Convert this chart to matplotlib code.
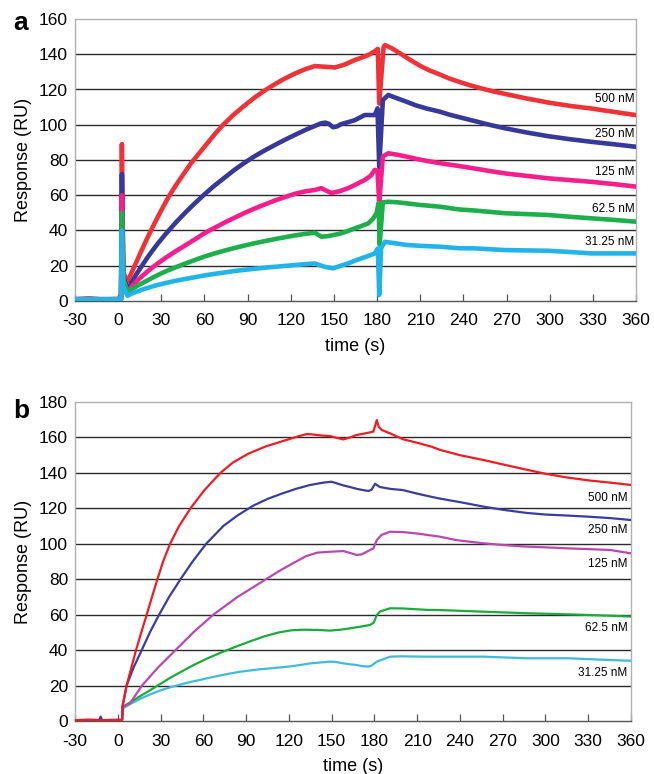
import matplotlib
matplotlib.use("Agg")
import matplotlib.pyplot as plt

plt.rcParams['font.family'] = ['Liberation Sans', 'DejaVu Sans']

# ---------------- labels / ticks ----------------
concentrations = ["500 nM", "250 nM", "125 nM", "62.5 nM", "31.25 nM"]
xticks = [-30, 0, 30, 60, 90, 120, 150, 180, 210, 240, 270, 300, 330, 360]
a_yticks = [0, 20, 40, 60, 80, 100, 120, 140, 160]
b_yticks = [0, 20, 40, 60, 80, 100, 120, 140, 160, 180]

# ---------------- data: panel a ----------------
a_t_500 = [-30, -20, -10, 0, 2, 2.6, 3.6, 6.5, 11.5, 17, 22.8, 29, 35, 40, 45, 50.5, 56, 61,
           67.5, 73, 80, 88, 95, 102, 108.9, 116, 122.8, 130, 136.7, 143.6, 150.6, 157, 164.5,
           170, 175, 178.5, 180.5, 181.5, 184.5, 185.5, 190, 196, 203, 209.8, 216, 223.7, 230,
           237.6, 245, 253, 261, 268.9, 277, 284, 292, 299, 307, 314, 322, 329.2, 337, 345,
           352, 360]
a_v_500 = [1, 1.5, 0.8, 1.2, 1, 89, 16, 11, 20, 30, 40, 50, 59, 65.5, 71.5, 78, 83.5, 88.5,
           95, 100, 105.5, 111, 115.5, 119.5, 123, 126.3, 129, 131.5, 133.3, 132.9, 132.5, 134,
           136.7, 138.3, 140, 141.8, 143, 112, 144, 145.2, 143.5, 140.5, 136.8, 133.5, 131,
           128.5, 126.3, 124.2, 122.3, 120.5, 118.9, 117.5, 116.1, 114.9, 113.7, 112.6, 111.6,
           110.7, 109.9, 109.2, 108.2, 107.3, 106.4, 105.5]

a_t_250 = [-30, -10, 0, 2, 2.6, 3.6, 6.5, 9, 12.5, 16.5, 21.5, 27, 33, 39.5, 46.5, 53.4, 60,
           67, 74, 81, 88, 95, 102, 108.9, 116, 122.8, 130, 136.7, 141, 144, 146.5, 149.4, 152,
           155.2, 160, 164.5, 171.4, 178.4, 180.3, 181.5, 184, 187.8, 194, 200.6, 207, 214.5,
           223.7, 230, 237.6, 246.9, 258, 268.9, 284, 299, 314, 329.2, 345, 360]
a_v_250 = [1, 1, 1, 1, 72, 14, 6, 10, 15, 20, 26, 32, 38, 44, 50, 55.5, 60.5, 65.5, 70, 74.5,
           78.5, 82.2, 85.5, 88.5, 91.5, 94.2, 97, 99.3, 100.8, 101.2, 100.5, 98.6, 99, 100.4,
           101.5, 102.6, 105.5, 105.5, 109.3, 76, 114, 116.9, 115, 113, 111, 109.2, 107.4,
           105.8, 104.2, 102.3, 100, 98, 95.6, 93.5, 91.8, 90.3, 88.9, 87.5]

a_t_125 = [-30, -10, 0, 2, 2.6, 3.6, 6.5, 9, 12.5, 16.5, 21.5, 27, 33, 39.5, 46.5, 53.4, 60, 67,
           74, 81, 88, 95, 102, 108.9, 116, 122.8, 130, 136.7, 141.3, 145, 148.2, 154, 159.8,
           165, 171.4, 175.5, 178.4, 180.3, 181.5, 184, 187.8, 194, 200.6, 207, 214.5, 223.7,
           237.6, 246.9, 258, 268.9, 284, 299, 314, 329.2, 345, 360]
a_v_125 = [1, 1, 1, 1, 60, 12, 5, 8, 11, 14, 17.5, 21, 24.5, 28, 31.5, 35, 38.5, 41.5, 44.5,
           47.3, 50, 52.5, 54.8, 57, 59, 60.8, 62.2, 63, 64, 62.5, 61.3, 62.3, 64, 66, 68.7, 71,
           74.4, 74, 55.4, 82, 83.8, 83, 81.9, 80.7, 79.5, 78.2, 76.5, 75.3, 73.8, 72.4, 71,
           69.6, 68.6, 67.6, 66.3, 64.9]

a_t_62 = [-30, -10, 0, 2, 2.6, 3.6, 6.5, 9, 12.5, 16.5, 21.5, 27, 33, 39.5, 46.5, 53.4, 60, 67,
          74, 81, 88, 95, 102, 108.9, 116, 122.8, 130, 136.7, 141.3, 145.9, 150, 155.2, 160,
          164.5, 169, 173.8, 177, 179.6, 181, 181.8, 184, 187.8, 194, 200.6, 210, 223.7, 237.6,
          246.9, 258, 268.9, 284, 299, 314, 329.2, 345, 360]
a_v_62 = [1, 1, 1, 1, 50, 12, 5, 6.5, 8.2, 10, 12.2, 14.5, 16.8, 19, 21.2, 23.3, 25.2, 27,
          28.6, 30.1, 31.5, 32.8, 34, 35.1, 36.2, 37.2, 38.1, 38.7, 36.5, 36.8, 37.5, 38.4,
          39.8, 41.2, 42.5, 44, 46.5, 49.7, 55.5, 32, 56, 56.3, 56, 55.4, 54.5, 53.5, 51.9,
          51.4, 50.6, 49.8, 49.3, 48.8, 47.8, 46.9, 46, 45]

a_t_31 = [-30, -10, 0, 2, 2.6, 3.6, 6.5, 9, 12.5, 16.5, 21.5, 27, 33, 39.5, 46.5, 53.4, 60, 67,
          74, 81, 88, 95, 102, 108.9, 116, 122.8, 130, 136.7, 143.6, 149.4, 154, 159.8, 165,
          169.1, 174, 178.4, 180.5, 181.5, 182.8, 185.5, 192, 200.6, 210, 223.7, 237.6, 246.9,
          258, 268.9, 284, 299, 314, 329.2, 345, 360]
a_v_31 = [1, 1, 1, 1, 40, 8, 3, 4, 5.2, 6.4, 7.7, 9, 10.2, 11.4, 12.5, 13.5, 14.5, 15.4, 16.2,
          17, 17.7, 18.3, 18.9, 19.4, 19.9, 20.4, 20.9, 21.3, 19.4, 18.5, 19.8, 21.3, 23, 24.2,
          25.6, 27, 29.8, 3.4, 30, 33.6, 32.8, 31.8, 31.3, 30.8, 29.9, 29.9, 29.4, 28.9, 28.7,
          28.5, 27.8, 27, 27, 27]

# ---------------- data: panel b ----------------
b_t_500 = [-30, -20, -10, 3, 3.5, 6.2, 9, 12.8, 16.5, 20.3, 24, 27.8, 31.8, 36.7, 43, 51,
           60.5, 72, 81, 92, 104, 116, 126, 133, 139.6, 144, 148.9, 154, 158.3, 163, 167.6,
           173, 179.3, 181.7, 183, 185.2, 191, 200, 210, 220, 226, 240, 256.4, 270, 286.8,
           300, 316, 330, 345.3, 360]
b_v_500 = [0.5, 0.8, 0.5, 0.5, 9, 20, 28.5, 40, 50, 60, 70, 80, 90, 100, 110, 120, 130, 140,
           146, 151, 155, 158, 160.5, 162, 161.4, 161, 160.8, 159.7, 158.9, 160, 161.4, 162.2,
           163.3, 169.8, 166, 164.2, 162.3, 159, 157, 154.8, 153, 150, 147.3, 144.8, 141.8,
           139.5, 137.3, 135.8, 134.5, 133.2]

b_t_250 = [-30, -13, -12, -11, 3, 3.5, 6.2, 11, 16.8, 22.5, 29, 36, 44, 52.5, 62, 74, 84, 95,
           105, 115, 125, 135, 145, 150, 154, 158.3, 163, 167.6, 172, 175.8, 178, 180.5, 182,
           184, 191, 200, 210, 220, 226, 240, 256.4, 270, 286.8, 300, 316, 330, 345.3, 360]
b_v_250 = [0.5, 0.5, 2.5, 0.5, 0.8, 9, 20, 30, 40, 50, 60, 70, 80, 90, 100, 110, 116, 121.5,
           125.3, 128.3, 131, 133.2, 134.6, 135, 134, 132.9, 132, 131, 130.3, 129.8, 130.5,
           133.9, 133, 132, 131, 130.3, 128.3, 126.5, 125.5, 123.5, 121, 119.2, 117.4, 116.5,
           115.9, 115.3, 114.5, 113.4]

b_t_125 = [-30, 3, 3.5, 8.6, 17, 28, 40.5, 53, 67, 84, 104, 114, 124, 132, 140, 148.9, 158.3,
           163, 167.6, 171, 174.6, 179.3, 181.7, 185, 191, 200, 210, 217, 226, 238, 256.4, 270,
           286.8, 300, 316, 330, 345.3, 360]
b_v_125 = [0.5, 0.5, 8, 10, 20, 30, 40, 50, 60, 70, 80, 85, 89.5, 93, 95, 95.5, 95.9, 94.8,
           93.7, 94, 95.5, 97.4, 102.1, 105, 106.8, 106.6, 105.8, 105, 104, 102, 100.3, 99.3,
           98.4, 98, 97.4, 97, 96.5, 94.6]

b_t_62 = [-30, 3, 3.5, 8.6, 16, 23, 30, 37, 45, 53, 62, 72, 83, 93, 103, 113, 122, 130, 140,
          149, 156, 163, 170, 177, 179.5, 181.7, 184, 191, 200, 217, 226, 256.4, 286.8, 316,
          345.3, 360]
b_v_62 = [0.5, 0.5, 8, 10.5, 14.2, 17.5, 21, 24.5, 28, 31.5, 35, 38.5, 42, 45, 47.8, 50, 51.2,
          51.5, 51.4, 51, 51.5, 52.3, 53.2, 54.2, 55.5, 59.8, 61.8, 63.6, 63.5, 62.7, 62.6,
          61.7, 60.8, 60.2, 59.4, 58.9]

b_t_31 = [-30, 3, 3.5, 8.6, 15.6, 22.7, 29.7, 36.7, 43.7, 50.8, 57.8, 64.8, 71.8, 78.8, 85.8,
          92.8, 99.8, 106.9, 113.9, 120.9, 127.9, 134.9, 141.9, 148.9, 153, 158.3, 163, 167.6,
          171, 175.8, 178, 181.7, 186, 191, 198, 217, 240, 256.4, 286.8, 316, 345.3, 360]
b_v_31 = [0.5, 0.5, 7, 9.5, 12.5, 15, 17.2, 19, 20.5, 22, 23.2, 24.5, 25.7, 26.8, 27.8, 28.5,
          29.2, 29.7, 30.2, 30.8, 31.6, 32.5, 33, 33.5, 33.3, 32.5, 32, 31.6, 31, 30.7, 31.2,
          33.5, 34.8, 36.3, 36.5, 36.3, 36.3, 36.3, 35.4, 35.4, 34.4, 34]

# ---------------- styles ----------------
a_colors = ['#ee3338', '#36389a', '#f51f8c', '#1eae4b', '#22b4e8']
b_colors = ['#ee1c25', '#3b3c9e', '#bb48ae', '#1aab3c', '#3fbadc']

a_series = [(a_t_500, a_v_500), (a_t_250, a_v_250), (a_t_125, a_v_125),
            (a_t_62, a_v_62), (a_t_31, a_v_31)]
b_series = [(b_t_500, b_v_500), (b_t_250, b_v_250), (b_t_125, b_v_125),
            (b_t_62, b_v_62), (b_t_31, b_v_31)]

a_label_y = [114.6, 94.7, 73, 52, 33.4]
b_label_y = [126, 107.8, 88.6, 52.5, 27.3]

fig = plt.figure(figsize=(6.54, 7.74), dpi=100)
ax_a = fig.add_axes([75 / 654, 1 - 301 / 774, (636 - 75) / 654, (301 - 19) / 774])
ax_b = fig.add_axes([75 / 654, 1 - 721 / 774, (631 - 75) / 654, (721 - 402) / 774])


def style_axes(ax, ymax, yticks):
    ax.set_xlim(-30, 360)
    ax.set_ylim(0, ymax)
    ax.set_xticks(xticks)
    ax.set_xticklabels([str(v) for v in xticks])
    ax.set_yticks(yticks)
    ax.set_yticklabels([str(v) for v in yticks])
    for y in yticks[1:-1]:
        ax.axhline(y, color='#2a2a2a', lw=1.0, zorder=1)
    for side in ['top', 'right', 'left']:
        ax.spines[side].set_color('#b0b0b0')
        ax.spines[side].set_linewidth(1.0)
    ax.spines['bottom'].set_color('#555555')
    ax.spines['bottom'].set_linewidth(1.0)
    ax.tick_params(axis='x', direction='in', length=5, width=0.9, color='#555555',
                   labelsize=12.5, pad=9)
    ax.tick_params(axis='y', length=0, labelsize=12.5, pad=5)
    ax.set_xlabel('time (s)', fontsize=13, labelpad=7)
    ax.set_ylabel('Response (RU)', fontsize=13, labelpad=5)


style_axes(ax_a, 160, a_yticks)
style_axes(ax_b, 180, b_yticks)

for i, ((t, v), c) in enumerate(zip(a_series, a_colors)):
    ax_a.plot(t, v, color=c, lw=3.3, zorder=3 + i, solid_joinstyle='round')
for lab, y in zip(concentrations, a_label_y):
    ax_a.text(359, y, lab, ha='right', va='center', fontsize=8.5, zorder=10)

for i, ((t, v), c) in enumerate(zip(b_series, b_colors)):
    ax_b.plot(t, v, color=c, lw=1.6, zorder=8 - i)
for lab, y in zip(concentrations, b_label_y):
    ax_b.text(357.5, y, lab, ha='right', va='center', fontsize=8.5, zorder=10)

fig.text(13 / 654, 1 - 30 / 774, 'a', fontsize=19, fontweight='bold', ha='left', va='baseline')
fig.text(13 / 654, 1 - 418 / 774, 'b', fontsize=19, fontweight='bold', ha='left', va='baseline')

fig.savefig('out.png', dpi=100)
